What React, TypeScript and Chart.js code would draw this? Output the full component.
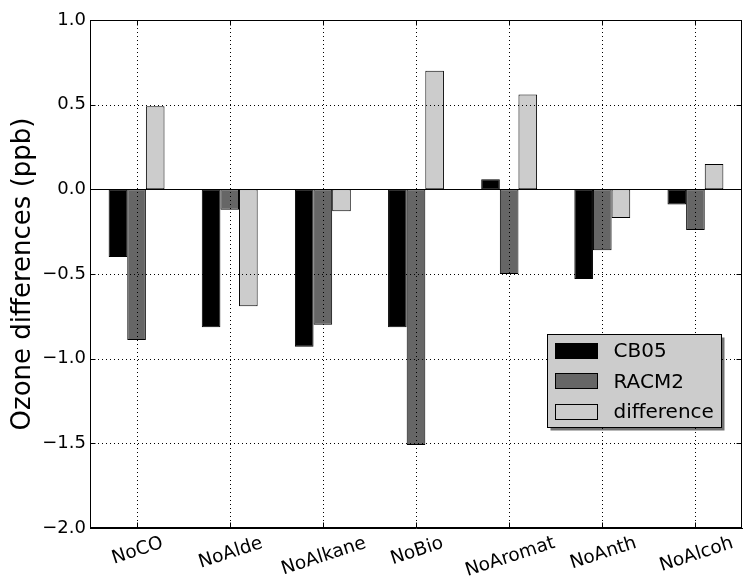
import React, { useEffect, useRef } from 'react';
import { Chart, registerables } from 'chart.js';

Chart.register(...registerables);

const categories = ['NoCO', 'NoAlde', 'NoAlkane', 'NoBio', 'NoAromat', 'NoAnth', 'NoAlcoh'];
const seriesNames = ['CB05', 'RACM2', 'difference'];
const cb05 = [-0.40, -0.815, -0.93, -0.815, 0.06, -0.53, -0.09];
const racm2 = [-0.89, -0.12, -0.80, -1.51, -0.50, -0.36, -0.24];
const difference = [0.49, -0.69, -0.13, 0.70, 0.56, -0.17, 0.15];
const seriesColors = ['#000000', '#666666', '#cccccc'];
const yMin = -2.0;
const yMax = 1.0;
const yStep = 0.5;
const yTitle = 'Ozone differences (ppb)';

const FONT = "'DejaVu Sans', sans-serif";

const fmt = (v: number) => (v < 0 ? '\u2212' : '') + Math.abs(v).toFixed(1);

const gridPlugin = {
  id: 'dotgrid',
  afterDatasetsDraw(chart: any) {
    const { ctx, chartArea: a } = chart;
    const xs = chart.scales.x;
    const ys = chart.scales.y;
    ctx.save();
    ctx.strokeStyle = '#000';
    ctx.lineWidth = 1;
    ctx.setLineDash([1, 3]);
    ctx.beginPath();
    categories.forEach((_, i) => {
      const p = Math.round(xs.getPixelForTick(i)) + 0.5;
      ctx.moveTo(p, a.top);
      ctx.lineTo(p, a.bottom);
    });
    ys.ticks.forEach((t: any) => {
      if (t.value === 0) return;
      const p = Math.round(ys.getPixelForValue(t.value)) + 0.5;
      ctx.moveTo(a.left, p);
      ctx.lineTo(a.right, p);
    });
    ctx.stroke();
    ctx.setLineDash([]);
    ctx.beginPath();
    const z = Math.round(ys.getPixelForValue(0)) + 0.5;
    ctx.moveTo(a.left, z);
    ctx.lineTo(a.right, z);
    ctx.stroke();
    ctx.restore();
  },
};

const decorPlugin = {
  id: 'decor',
  afterDraw(chart: any) {
    const { ctx, chartArea: a } = chart;
    const xs = chart.scales.x;
    const ys = chart.scales.y;
    ctx.save();
    ctx.setLineDash([]);
    ctx.strokeStyle = '#000';
    ctx.lineWidth = 1;
    const L = Math.round(a.left) + 0.5;
    const R = Math.round(a.right) - 0.5;
    const T = Math.round(a.top) + 0.5;
    const B = Math.round(a.bottom) - 0.5;
    ctx.strokeRect(L, T, R - L, B - T);
    // inward ticks
    ctx.beginPath();
    ys.ticks.forEach((t: any) => {
      const p = Math.round(ys.getPixelForValue(t.value)) + 0.5;
      ctx.moveTo(L, p); ctx.lineTo(L + 5, p);
      ctx.moveTo(R, p); ctx.lineTo(R - 5, p);
    });
    categories.forEach((_, i) => {
      const p = Math.round(xs.getPixelForTick(i)) + 0.5;
      ctx.moveTo(p, B); ctx.lineTo(p, B - 5);
      ctx.moveTo(p, T); ctx.lineTo(p, T + 5);
    });
    ctx.stroke();

    // rotated x labels, centred under ticks
    const fs = 18.5;
    ctx.font = `${fs}px ${FONT}`;
    ctx.fillStyle = '#000';
    ctx.textAlign = 'center';
    ctx.textBaseline = 'middle';
    const ang = (18 * Math.PI) / 180;
    categories.forEach((lab, i) => {
      const x = xs.getPixelForTick(i);
      const w = ctx.measureText(lab).width;
      const cy = a.bottom + 6 + (w * Math.sin(ang) + fs * Math.cos(ang)) / 2;
      ctx.save();
      ctx.translate(x + 1, cy);
      ctx.rotate(-ang);
      ctx.fillText(lab, 0, 0);
      ctx.restore();
    });

    // legend
    const bw = 174;
    const bh = 93;
    const bx = Math.round(a.right - 195) + 0.5;
    const by = Math.round(a.top + 314) + 0.5;
    ctx.fillStyle = 'rgba(0,0,0,0.55)';
    ctx.fillRect(bx + 3, by + 3, bw, bh);
    ctx.fillStyle = '#cccccc';
    ctx.fillRect(bx, by, bw, bh);
    ctx.strokeStyle = '#000';
    ctx.strokeRect(bx, by, bw, bh);
    ctx.font = `20px ${FONT}`;
    ctx.textAlign = 'left';
    ctx.textBaseline = 'middle';
    chart.data.datasets.forEach((ds: any, i: number) => {
      const cyRow = by + 16.5 + i * 30.3;
      const sx = bx + 8;
      const sy = Math.round(cyRow - 8) + 0.5;
      ctx.fillStyle = ds.backgroundColor;
      ctx.fillRect(sx, sy, 42, 15);
      ctx.strokeStyle = '#000';
      ctx.strokeRect(sx, sy, 42, 15);
      ctx.fillStyle = '#000';
      ctx.fillText(ds.label, bx + 66, cyRow + 1);
    });
    ctx.restore();
  },
};

export default function App() {
  const ref = useRef<HTMLCanvasElement | null>(null);
  useEffect(() => {
    if (!ref.current) return;
    const values = [cb05, racm2, difference];
    const chart = new Chart(ref.current, {
      type: 'bar',
      data: {
        labels: categories,
        datasets: seriesNames.map((name, i) => ({
          label: name,
          data: values[i],
          backgroundColor: seriesColors[i],
          borderColor: '#000',
          borderWidth: 1,
          borderSkipped: false,
          barPercentage: 1.0,
          categoryPercentage: 0.6,
        })),
      },
      options: {
        animation: false,
        responsive: false,
        devicePixelRatio: 1,
        layout: { padding: { top: 20, right: 1, bottom: 54, left: 0 } },
        plugins: {
          legend: { display: false },
          tooltip: { enabled: false },
        },
        scales: {
          x: {
            type: 'category',
            grid: { display: false, drawTicks: false },
            border: { display: true, color: '#000' },
            ticks: { display: false },
          },
          y: {
            min: yMin,
            max: yMax,
            afterFit: (s: any) => { s.width = 90; },
            grid: { display: false, drawTicks: false },
            border: { display: true, color: '#000' },
            ticks: {
              stepSize: yStep,
              color: '#000',
              padding: 4,
              font: { family: FONT, size: 18 },
              callback: (v: any) => fmt(Number(v)),
            },
            title: {
              display: true,
              text: yTitle,
              color: '#000',
              font: { family: FONT, size: 26 },
              padding: { top: 8, bottom: 0 },
            },
          },
        },
      },
      plugins: [gridPlugin, decorPlugin],
    });
    return () => chart.destroy();
  }, []);
  return (
    <div style={{ position: 'fixed', left: 0, top: 0, width: 743, height: 582, background: '#fff' }}>
      <canvas ref={ref} width={743} height={582} style={{ display: 'block' }} />
    </div>
  );
}
